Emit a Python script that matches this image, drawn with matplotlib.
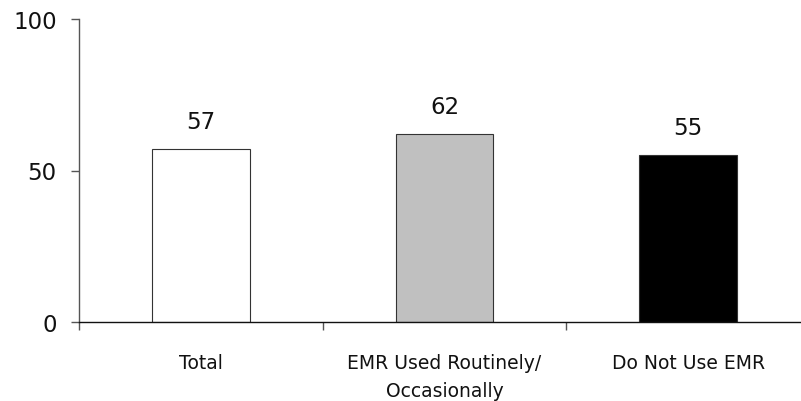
import matplotlib
matplotlib.use("Agg")
import matplotlib.pyplot as plt
import numpy as np

categories = ["Total", "EMR Used Routinely/\nOccasionally", "Do Not Use EMR"]
values = [57, 62, 55]
colors = ["#ffffff", "#c0c0c0", "#000000"]
yticks = [0, 50, 100]

plt.rcParams['font.family'] = ['DejaVu Sans']

fig = plt.figure(figsize=(8.01, 4.02), dpi=100)
ax = fig.add_axes([79/801, 1-323/402, 731/801, (323-20)/402])

x = np.arange(len(categories))
ax.bar(x, values, width=0.40, color=colors, edgecolor="#333333", linewidth=0.8, zorder=2)
for xi, v in zip(x, values):
    ax.text(xi, v + 5.3, f"{v}", ha="center", va="bottom", fontsize=16.5, color="#111111")

ax.set_xlim(-0.5, len(categories) - 0.5)
ax.set_ylim(0, 100)
ax.set_yticks(yticks)
ax.set_yticklabels([str(t) for t in yticks], fontsize=16.5, color="#111111")
ax.tick_params(axis="y", direction="out", length=6, width=1, pad=10, color="#555555")

ax.set_xticks(x)
ax.set_xticklabels(categories, fontsize=13.5, color="#111111", linespacing=1.6)
ax.tick_params(axis="x", which="major", length=0, pad=22)
ax.set_xticks(np.arange(len(categories)) - 0.5, minor=True)
ax.tick_params(axis="x", which="minor", direction="out", length=6, width=1, color="#555555")

for s in ["top", "right"]:
    ax.spines[s].set_visible(False)
ax.spines["left"].set_color("#555555")
ax.spines["bottom"].set_color("#111111")
ax.spines["left"].set_linewidth(1)
ax.spines["bottom"].set_linewidth(1)

fig.savefig("out.png", dpi=100)
